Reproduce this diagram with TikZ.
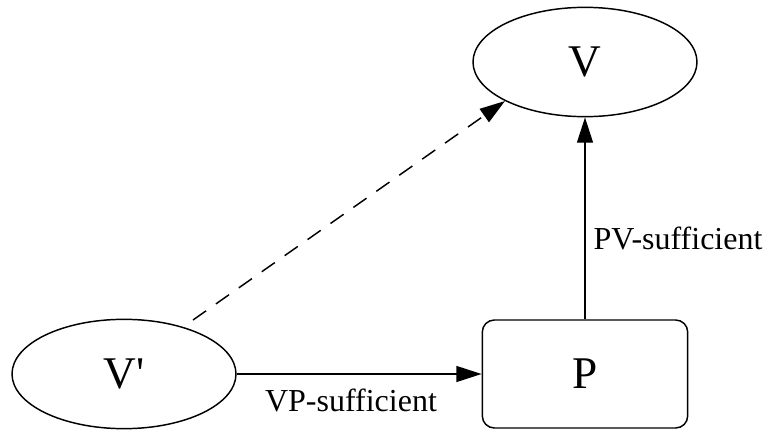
\documentclass[tikz,border=0pt]{standalone}
\usepackage{fontspec}
\setmainfont{Liberation Serif}
\usetikzlibrary{positioning,shapes.geometric,arrows.meta}
\tikzset{
  varNode/.style={ellipse, draw, line width=1.1pt, inner sep=0pt, minimum width=168pt, minimum height=82pt, font=\fontsize{34}{36}\selectfont},
  predNode/.style={rectangle, rounded corners=9pt, draw, line width=1.1pt, minimum width=154pt, minimum height=81pt, font=\fontsize{34}{36}\selectfont},
  suffOp/.style={-{Triangle[length=19pt,width=12pt]}, line width=1.1pt},
  impliedOp/.style={suffOp, dash pattern=on 12pt off 9pt},
  edgeLabel/.style={font=\fontsize{24}{26}\selectfont}
}
\begin{document}
\begin{tikzpicture}[x=0.75pt, y=0.75pt]
      \useasboundingbox (0,0) rectangle (776,430);
      \node [varNode] (v) at (585,368) {V};
      \node [varNode] (vprime) at (124,56) {V\textquotesingle};
      \node [predNode] (p) at (585,56) {P};
      \coordinate (dashStart) at (193,110);
      \draw [suffOp] (vprime) -- (p);
      \draw [suffOp] (p) -- (v);
      \draw [impliedOp] (dashStart) -- (v.206);
      \node [edgeLabel] (vpLabel) at (351,30) {VP-sufficient};
      \node [edgeLabel] (pvLabel) at (678,192) {PV-sufficient};
    \end{tikzpicture}
\end{document}
